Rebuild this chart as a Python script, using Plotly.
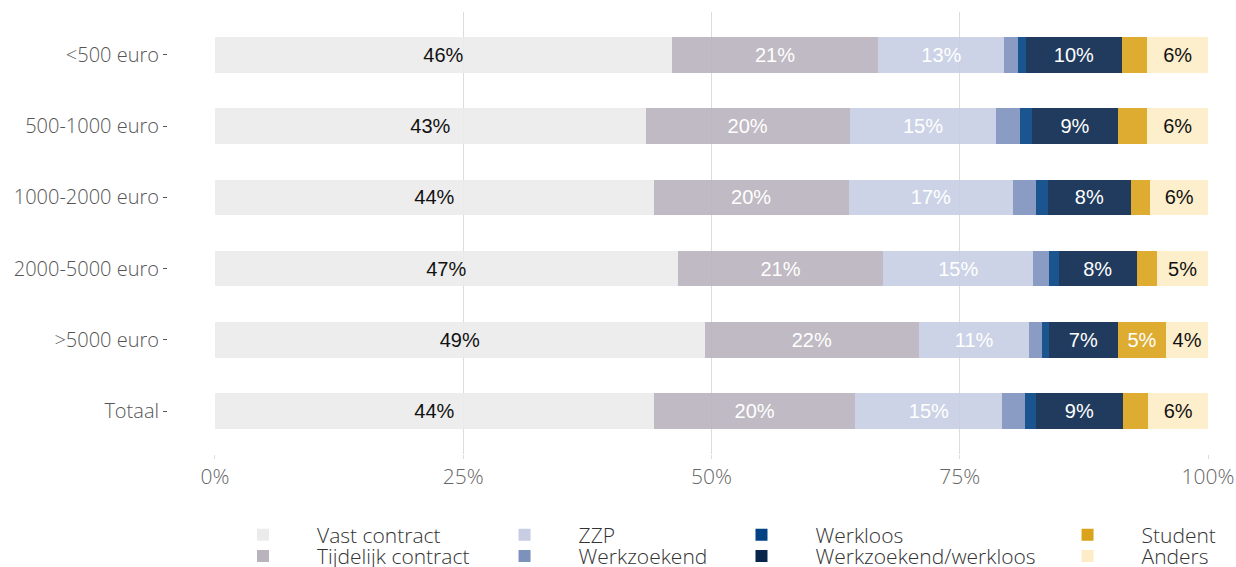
import plotly.graph_objects as go

categories = ["<500 euro", "500-1000 euro", "1000-2000 euro", "2000-5000 euro", ">5000 euro", "Totaal"]
series_names = ["Vast contract", "Tijdelijk contract", "ZZP", "Werkzoekend",
                "Werkloos", "Werkzoekend/werkloos", "Student", "Anders"]

vast = [46.0, 43.4, 44.2, 46.6, 49.3, 44.2]
tijdelijk = [20.8, 20.5, 19.6, 20.7, 21.6, 20.3]
zzp = [12.7, 14.8, 16.6, 15.1, 11.1, 14.8]
werkzoekend = [1.4, 2.4, 2.3, 1.6, 1.3, 2.3]
werkloos = [0.8, 1.2, 1.2, 1.0, 0.7, 1.1]
werkzoekend_werkloos = [9.6, 8.6, 8.3, 7.8, 6.9, 8.7]
student = [2.6, 3.0, 2.0, 2.1, 4.9, 2.6]
anders = [6.1, 6.1, 5.8, 5.1, 4.2, 6.0]

x_ticks = [0, 25, 50, 75, 100]
x_tick_labels = ["0%", "25%", "50%", "75%", "100%"]

series_values = [vast, tijdelijk, zzp, werkzoekend, werkloos,
                 werkzoekend_werkloos, student, anders]
colors = ["#ebebeb", "#b8b3bc", "#c7cee3", "#7d91bd",
          "#024284", "#08264c", "#d9a31b", "#fdecc7"]
text_colors = ["#111111", "#ffffff", "#ffffff", "#ffffff",
               "#ffffff", "#ffffff", "#ffffff", "#111111"]

LABEL_MIN = 3.5
TICK_FONT = "Open Sans"

fig = go.Figure()
for i, (name, vals) in enumerate(zip(series_names, series_values)):
    texts = [f"{round(v)}%" if v >= LABEL_MIN else "" for v in vals]
    fig.add_trace(go.Bar(
        y=categories, x=vals, name=name, orientation="h",
        marker=dict(color=colors[i], opacity=0.9, line=dict(width=0)),
        text=texts, textposition="inside", insidetextanchor="middle",
        textangle=0,
        textfont=dict(family="Liberation Sans, Arial", size=20, color=text_colors[i]),
        legend="legend" if i == 0 else f"legend{i + 1}",
        showlegend=True,
        hoverinfo="skip",
    ))

# legend layout: 4 columns x 2 rows (column-major), figure-relative coordinates
col_x = [0.1691, 0.3807, 0.5724, 0.8362]
row_y = [0.0564, 0.0190]
legend_layouts = {}
for i in range(len(series_names)):
    key = "legend" if i == 0 else f"legend{i + 1}"
    legend_layouts[key] = dict(
        xref="container", yref="container",
        x=col_x[i // 2], y=row_y[i % 2], xanchor="left", yanchor="middle",
        itemwidth=98, bgcolor="rgba(0,0,0,0)", borderwidth=0,
        font=dict(family=TICK_FONT, size=21, color="#333333", weight=300),
        itemclick=False, itemdoubleclick=False, visible=True,
    )

fig.update_layout(
    width=1236, height=567,
    margin=dict(l=167, r=28, t=12, b=113, autoexpand=False),
    showlegend=True,
    barmode="stack", bargap=0.5,
    plot_bgcolor="white", paper_bgcolor="white",
    uniformtext=dict(minsize=20, mode="show"),
    xaxis=dict(
        domain=[0.0461, 1], range=[0, 100],
        tickvals=x_ticks, ticktext=x_tick_labels,
        showgrid=True, gridcolor="#dcdcdc", gridwidth=1, zeroline=False,
        ticks="outside", ticklen=4, tickcolor="#dcdcdc", tickwidth=1,
        tickfont=dict(family=TICK_FONT, size=21, color="#666666", weight=300),
        showline=False, fixedrange=True, automargin=False,
    ),
    yaxis=dict(
        categoryorder="array", categoryarray=categories,
        range=[5.6, -0.6], anchor="free", position=0,
        showgrid=False, zeroline=False, showline=False,
        ticks="outside", ticklen=4, tickcolor="#555555", tickwidth=1,
        tickfont=dict(family=TICK_FONT, size=20, color="#555555", weight=300),
        fixedrange=True, automargin=False,
    ),
    **legend_layouts,
)

fig.write_html(
    "out.html",
    config={"displayModeBar": False},
    post_script="document.body.style.margin='0px';document.body.style.overflow='hidden';",
)
